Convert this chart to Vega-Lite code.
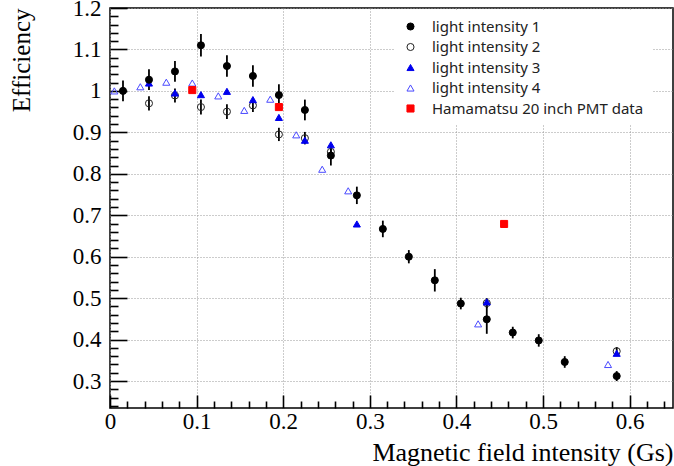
{
  "$schema": "https://vega.github.io/schema/vega-lite/v6.json",
  "width": 563,
  "height": 400,
  "autosize": "none",
  "padding": {"left": 110, "top": 8, "right": 1, "bottom": 58},
  "background": "white",
  "config": {
    "view": {"stroke": "black", "strokeWidth": 1.5},
    "legend": {
      "orient": "none",
      "legendX": 285,
      "legendY": 3,
      "fillColor": "white",
      "padding": 8,
      "labelFont": "Noto Sans",
      "labelFontSize": 15,
      "labelColor": "#222",
      "labelOffset": 14,
      "labelLimit": 0,
      "rowPadding": 4.5,
      "symbolStrokeWidth": 1,
      "title": null
    }
  },
  "datasets": {
    "pts": [
      {"s": "light intensity 2", "x": 0.045, "y": 0.970, "err": 0.017},
      {"s": "light intensity 2", "x": 0.075, "y": 0.989, "err": 0.017},
      {"s": "light intensity 2", "x": 0.105, "y": 0.961, "err": 0.018},
      {"s": "light intensity 2", "x": 0.135, "y": 0.950, "err": 0.018},
      {"s": "light intensity 2", "x": 0.165, "y": 0.965, "err": 0.016},
      {"s": "light intensity 2", "x": 0.195, "y": 0.895, "err": 0.016},
      {"s": "light intensity 2", "x": 0.225, "y": 0.886, "err": 0.015},
      {"s": "light intensity 2", "x": 0.255, "y": 0.853, "err": 0.015},
      {"s": "light intensity 2", "x": 0.435, "y": 0.488, "err": 0.012},
      {"s": "light intensity 2", "x": 0.585, "y": 0.372, "err": 0.010},
      {"s": "light intensity 3", "x": 0.045, "y": 1.019},
      {"s": "light intensity 3", "x": 0.075, "y": 0.995},
      {"s": "light intensity 3", "x": 0.105, "y": 0.991},
      {"s": "light intensity 3", "x": 0.135, "y": 0.999},
      {"s": "light intensity 3", "x": 0.165, "y": 0.979},
      {"s": "light intensity 3", "x": 0.195, "y": 0.936},
      {"s": "light intensity 3", "x": 0.225, "y": 0.881},
      {"s": "light intensity 3", "x": 0.255, "y": 0.870},
      {"s": "light intensity 3", "x": 0.285, "y": 0.679},
      {"s": "light intensity 3", "x": 0.435, "y": 0.491},
      {"s": "light intensity 3", "x": 0.585, "y": 0.367},
      {"s": "light intensity 4", "x": 0.005, "y": 1.000},
      {"s": "light intensity 4", "x": 0.035, "y": 1.010},
      {"s": "light intensity 4", "x": 0.065, "y": 1.021},
      {"s": "light intensity 4", "x": 0.095, "y": 1.019},
      {"s": "light intensity 4", "x": 0.125, "y": 0.988},
      {"s": "light intensity 4", "x": 0.155, "y": 0.953},
      {"s": "light intensity 4", "x": 0.185, "y": 0.980},
      {"s": "light intensity 4", "x": 0.215, "y": 0.894},
      {"s": "light intensity 4", "x": 0.245, "y": 0.811},
      {"s": "light intensity 4", "x": 0.275, "y": 0.759},
      {"s": "light intensity 4", "x": 0.425, "y": 0.438},
      {"s": "light intensity 4", "x": 0.575, "y": 0.340},
      {"s": "light intensity 1", "x": 0.015, "y": 1.000, "err": 0.025},
      {"s": "light intensity 1", "x": 0.045, "y": 1.027, "err": 0.025},
      {"s": "light intensity 1", "x": 0.075, "y": 1.047, "err": 0.025},
      {"s": "light intensity 1", "x": 0.105, "y": 1.110, "err": 0.027},
      {"s": "light intensity 1", "x": 0.135, "y": 1.060, "err": 0.026},
      {"s": "light intensity 1", "x": 0.165, "y": 1.036, "err": 0.026},
      {"s": "light intensity 1", "x": 0.195, "y": 0.990, "err": 0.026},
      {"s": "light intensity 1", "x": 0.225, "y": 0.954, "err": 0.025},
      {"s": "light intensity 1", "x": 0.255, "y": 0.844, "err": 0.024},
      {"s": "light intensity 1", "x": 0.285, "y": 0.748, "err": 0.021},
      {"s": "light intensity 1", "x": 0.315, "y": 0.667, "err": 0.020},
      {"s": "light intensity 1", "x": 0.345, "y": 0.600, "err": 0.016},
      {"s": "light intensity 1", "x": 0.375, "y": 0.543, "err": 0.027},
      {"s": "light intensity 1", "x": 0.405, "y": 0.487, "err": 0.014},
      {"s": "light intensity 1", "x": 0.435, "y": 0.449, "err": 0.035},
      {"s": "light intensity 1", "x": 0.465, "y": 0.417, "err": 0.014},
      {"s": "light intensity 1", "x": 0.495, "y": 0.398, "err": 0.015},
      {"s": "light intensity 1", "x": 0.525, "y": 0.346, "err": 0.014},
      {"s": "light intensity 1", "x": 0.585, "y": 0.312, "err": 0.012},
      {"s": "Hamamatsu 20 inch PMT data", "x": 0.095, "y": 1.002},
      {"s": "Hamamatsu 20 inch PMT data", "x": 0.195, "y": 0.961},
      {"s": "Hamamatsu 20 inch PMT data", "x": 0.455, "y": 0.679}
    ]
  },
  "data": {"name": "pts"},
  "resolve": {"axis": {"x": "independent", "y": "independent"}},
  "layer": [
    {
      "transform": [{"filter": "datum.err > 0"}],
      "mark": {"type": "errorbar", "color": "black", "thickness": 1.8},
      "encoding": {
        "x": {
          "field": "x", "type": "quantitative",
          "scale": {"domain": [0, 0.65], "nice": false, "zero": false},
          "axis": {
            "orient": "bottom",
            "values": [0, 0.1, 0.2, 0.3, 0.4, 0.5, 0.6],
            "format": "~g",
            "grid": true, "gridColor": "#999", "gridDash": [1, 2], "gridWidth": 1,
            "domain": false,
            "ticks": false,
            "labelFont": "Liberation Serif", "labelFontSize": 23, "labelColor": "black",
            "labelPadding": 2, "labelFlush": false, "labelOverlap": false,
            "title": "Magnetic field intensity (Gs)",
            "titleFont": "Liberation Serif", "titleFontSize": 26, "titleFontWeight": "normal",
            "titleColor": "black", "titleAlign": "right", "titleAnchor": "end",
            "titleX": 563, "titleY": 52, "titleBaseline": "alphabetic"
          }
        },
        "y": {
          "field": "y", "type": "quantitative",
          "scale": {"domain": [0.235, 1.2], "nice": false, "zero": false},
          "axis": {
            "orient": "left",
            "values": [0.3, 0.4, 0.5, 0.6, 0.7, 0.8, 0.9, 1.0, 1.1, 1.2],
            "format": "~g",
            "grid": true, "gridColor": "#999", "gridDash": [1, 2], "gridWidth": 1,
            "domain": false,
            "ticks": false,
            "labelFont": "Liberation Serif", "labelFontSize": 23, "labelColor": "black",
            "labelPadding": 9, "labelFlush": false, "labelOverlap": false,
            "title": "Efficiency",
            "titleFont": "Liberation Serif", "titleFontSize": 25, "titleFontWeight": "normal",
            "titleColor": "black", "titleAlign": "right", "titleAnchor": "end", "titleAngle": -90,
            "titleX": -81, "titleY": 0, "titleBaseline": "alphabetic"
          }
        },
        "yError": {"field": "err"}
      }
    },
    {
      "mark": {"type": "point", "opacity": 0},
      "encoding": {
        "x": {
          "field": "x", "type": "quantitative",
          "axis": {
            "orient": "bottom",
            "values": [0, 0.1, 0.2, 0.3, 0.4, 0.5, 0.6],
            "labels": false, "grid": false, "domain": false,
            "ticks": true, "tickSize": -13, "tickColor": "black", "tickWidth": 1.6,
            "title": null
          }
        },
        "y": {
          "field": "y", "type": "quantitative",
          "axis": {
            "orient": "left",
            "values": [0.3, 0.4, 0.5, 0.6, 0.7, 0.8, 0.9, 1.0, 1.1, 1.2],
            "labels": false, "grid": false, "domain": false,
            "ticks": true, "tickSize": -17, "tickColor": "black", "tickWidth": 1.6,
            "title": null
          }
        }
      }
    },
    {
      "mark": {"type": "point", "opacity": 0},
      "encoding": {
        "x": {
          "field": "x", "type": "quantitative",
          "axis": {
            "orient": "bottom",
            "values": [0.02, 0.04, 0.06, 0.08, 0.12, 0.14, 0.16, 0.18, 0.22, 0.24, 0.26, 0.28, 0.32, 0.34, 0.36, 0.38, 0.42, 0.44, 0.46, 0.48, 0.52, 0.54, 0.56, 0.58, 0.62, 0.64],
            "labels": false, "grid": false, "domain": false,
            "ticks": true, "tickSize": -7, "tickColor": "black", "tickWidth": 1.6,
            "title": null
          }
        },
        "y": {
          "field": "y", "type": "quantitative",
          "axis": {
            "orient": "left",
            "values": [0.24, 0.26, 0.28, 0.32, 0.34, 0.36, 0.38, 0.42, 0.44, 0.46, 0.48, 0.52, 0.54, 0.56, 0.58, 0.62, 0.64, 0.66, 0.68, 0.72, 0.74, 0.76, 0.78, 0.82, 0.84, 0.86, 0.88, 0.92, 0.94, 0.96, 0.98, 1.02, 1.04, 1.06, 1.08, 1.12, 1.14, 1.16, 1.18],
            "labels": false, "grid": false, "domain": false,
            "ticks": true, "tickSize": -8, "tickColor": "black", "tickWidth": 1.6,
            "title": null
          }
        }
      }
    },
    {
      "mark": {"type": "point", "filled": true, "strokeWidth": 1, "opacity": 1},
      "encoding": {
        "x": {"field": "x", "type": "quantitative", "axis": null},
        "y": {"field": "y", "type": "quantitative", "axis": null},
        "shape": {
          "field": "s", "type": "nominal",
          "scale": {
            "domain": ["light intensity 1", "light intensity 2", "light intensity 3", "light intensity 4", "Hamamatsu 20 inch PMT data"],
            "range": ["circle", "circle", "triangle-up", "triangle-up", "square"]
          }
        },
        "fill": {
          "field": "s", "type": "nominal",
          "scale": {
            "domain": ["light intensity 1", "light intensity 2", "light intensity 3", "light intensity 4", "Hamamatsu 20 inch PMT data"],
            "range": ["black", "transparent", "#0000ee", "transparent", "#ff0000"]
          }
        },
        "stroke": {
          "field": "s", "type": "nominal",
          "scale": {
            "domain": ["light intensity 1", "light intensity 2", "light intensity 3", "light intensity 4", "Hamamatsu 20 inch PMT data"],
            "range": ["black", "#222222", "#0000ee", "#4a4aff", "#ff0000"]
          }
        },
        "size": {
          "field": "s", "type": "nominal",
          "scale": {
            "domain": ["light intensity 1", "light intensity 2", "light intensity 3", "light intensity 4", "Hamamatsu 20 inch PMT data"],
            "range": [50, 50, 30, 45, 45]
          }
        }
      }
    }
  ]
}
